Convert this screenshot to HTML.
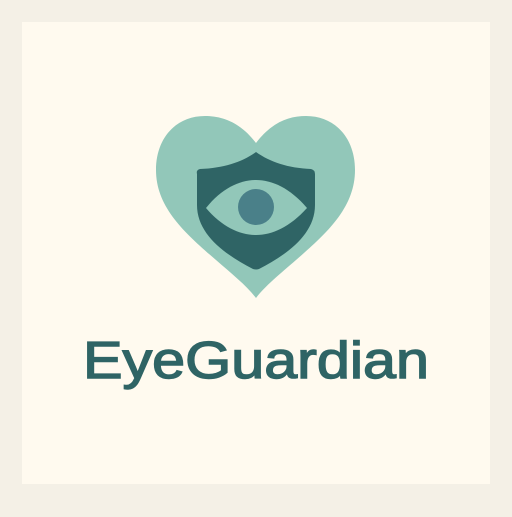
<!DOCTYPE html>
<html><head><style>
html,body{margin:0;padding:0;background:#f4f0e6;}
</style></head><body>
<svg width="512" height="512" viewBox="0 0 512 512">
<rect x="0" y="0" width="512" height="512" fill="#f4f0e6"/>
<rect x="22" y="22" width="468" height="462" fill="#fffaef"/>
<path fill="#92c7b9"
 d="M256,143 C240,122 222,116 205,116 C176,116 156,138 156,170 C156,208 186,234 216,260 C232,274 247,286 256,298 C265,286 280,274 296,260 C326,234 355,208 355,170 C355,138 335,116 306,116 C289,116 272,122 256,143 Z"/>
<path fill="#2f6465"
 d="M256,152 C242,162 224,168 200,169 Q196,170 197,174 L197,205 C197,235 226,255 253,269 Q256,270 259,269 C286,255 315,235 315,205 L315,174 Q315,170 311,169 C288,168 270,162 256,152 Z"/>
<path fill="#92c7b9"
 d="M206,208 C222,188 240,180 256,180 C272,180 290,188 307,208 C290,227 272,235 256,235 C240,235 222,227 206,208 Z"/>
<circle cx="256" cy="207" r="18" fill="#4a8089"/>
<text x="256" y="378" text-anchor="middle" font-family="Liberation Sans, sans-serif" font-size="52" fill="#2f6465" stroke="#2f6465" stroke-width="1.4" textLength="346" lengthAdjust="spacingAndGlyphs">EyeGuardian</text>
</svg>
</body></html>
